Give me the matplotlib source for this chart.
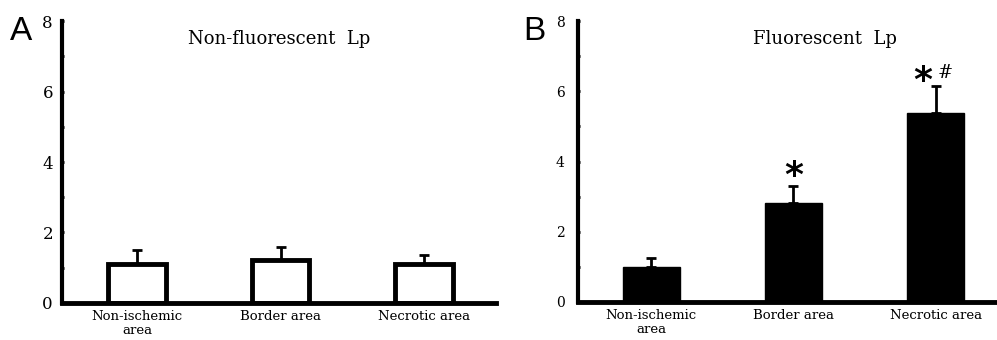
import matplotlib
matplotlib.use("Agg")
import matplotlib.pyplot as plt
from matplotlib.ticker import MultipleLocator

categories = ["Non-ischemic\narea", "Border area", "Necrotic area"]
nonfluo_mean = [1.1, 1.21, 1.1]
nonfluo_err = [0.4, 0.37, 0.25]
fluo_mean = [1.0, 2.83, 5.39]
fluo_err = [0.24, 0.46, 0.76]
yticks = [0, 2, 4, 6, 8]

serif = "DejaVu Serif"
fig = plt.figure(figsize=(9.97, 3.4), dpi=100)

def setup(ax, xl, tick_fs, lab_fs, pad):
    ax.set_ylim(0, 8)
    ax.set_xlim(*xl)
    for s in ["top", "right"]:
        ax.spines[s].set_visible(False)
    ax.spines["left"].set_linewidth(3)
    ax.spines["bottom"].set_linewidth(3.5)
    ax.set_yticks(yticks)
    ax.yaxis.set_minor_locator(MultipleLocator(1))
    ax.tick_params(axis="y", which="major", length=3, width=2, pad=pad, direction="inout", labelsize=tick_fs)
    ax.tick_params(axis="y", which="minor", length=3, width=2, direction="inout")
    ax.set_xticks(range(len(categories)))
    ax.set_xticklabels(categories, fontsize=lab_fs, family=serif, linespacing=1.1)
    ax.tick_params(axis="x", length=0, pad=5)
    for lab in ax.get_yticklabels():
        lab.set_family(serif)

x = list(range(len(categories)))

axA = fig.add_axes([0.0622, 0.109, 0.435, 0.829])
setup(axA, (-0.523, 2.50), 12, 9.5, 5)
axA.bar(x, nonfluo_mean, width=0.40, color="white", edgecolor="black", linewidth=3.5, zorder=2)
axA.errorbar(x, nonfluo_mean, yerr=[[0]*3, nonfluo_err], fmt="none", ecolor="black",
             elinewidth=2, capsize=3.5, capthick=2, zorder=1)
axA.text(0.5, 0.935, "Non-fluorescent  Lp", transform=axA.transAxes, ha="center", va="center",
         fontsize=13, family=serif)
fig.text(0.010, 0.882, "A", fontsize=24, family="Liberation Sans", va="baseline")

axB = fig.add_axes([0.5797, 0.112, 0.42, 0.826])
setup(axB, (-0.516, 2.43), 10, 9.5, 8)
axB.bar(x, fluo_mean, width=0.40, color="black", edgecolor="black", linewidth=1, zorder=2)
axB.errorbar(x, fluo_mean, yerr=[[0]*3, fluo_err], fmt="none", ecolor="black",
             elinewidth=2, capsize=3.5, capthick=2, zorder=1)
axB.text(0.59, 0.935, "Fluorescent  Lp", transform=axB.transAxes, ha="center", va="center",
         fontsize=13, family=serif)
fig.text(0.525, 0.882, "B", fontsize=24, family="Liberation Sans", va="baseline")

axB.text(1, fluo_mean[1] + fluo_err[1] - 0.19, "*", ha="center", va="bottom", fontsize=26,
         family="DejaVu Sans", fontweight="bold")
axB.text(1.91, fluo_mean[2] + fluo_err[2] - 0.34, "*", ha="center", va="bottom", fontsize=26,
         family="DejaVu Sans", fontweight="bold")
axB.text(2.07, fluo_mean[2] + fluo_err[2] + 0.11, "#", ha="center", va="bottom", fontsize=13, family=serif)

fig.savefig("out.png", dpi=100)
